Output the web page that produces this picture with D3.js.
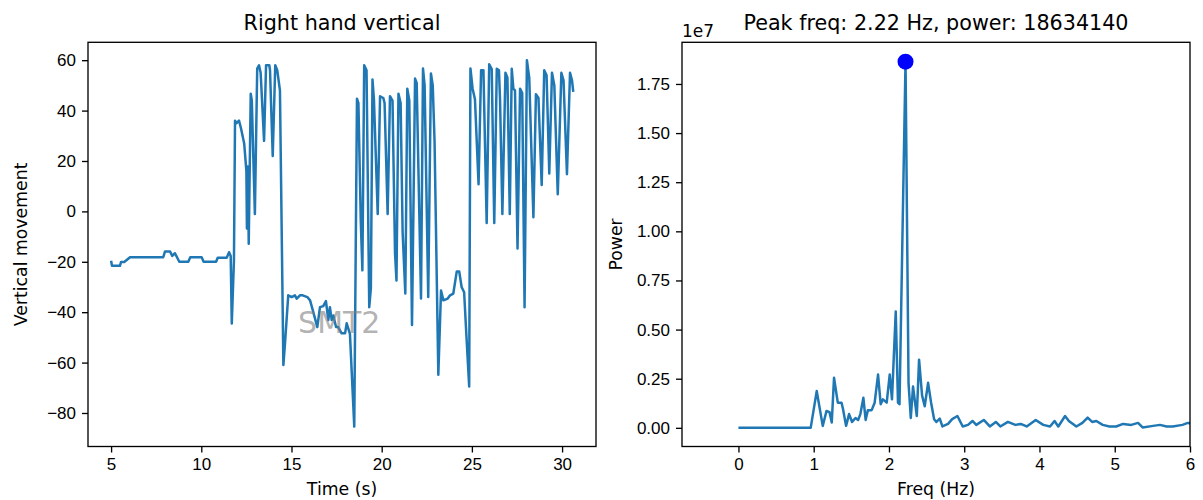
<!DOCTYPE html>
<html>
<head>
<meta charset="utf-8" />
<title>Right hand vertical</title>
<script src="https://d3js.org/d3.v7.min.js"></script>
<style>
  body { margin: 0; background: #fff; }
  svg { font-family: "DejaVu Sans", sans-serif; }
  .tick text { font-size: 17px; fill: #000; }
  .tick line { stroke: #000; stroke-width: 1.33px; }
  .spine { fill: none; stroke: #000; stroke-width: 1.33px; }
  .line { fill: none; stroke: #1f77b4; stroke-width: 2.5px; stroke-linejoin: round; }
  .title { font-size: 20.7px; text-anchor: middle; }
  .label { font-size: 17.3px; text-anchor: middle; }
</style>
</head>
<body>
<svg width="1203" height="500"></svg>
<script>
// left panel: hand position over time
var timeS = [5.00, 5.05, 5.49, 5.55, 5.73, 6.05, 7.89, 7.99, 8.27, 8.39, 8.54, 8.78, 9.28, 9.39, 10.02, 10.13,
  10.82, 10.91, 11.41, 11.54, 11.63, 11.69, 11.81, 11.87, 11.95, 12.09, 12.2, 12.38, 12.5, 12.53, 12.58, 12.63,
  12.74, 12.8, 12.97, 13.1, 13.2, 13.29, 13.48, 13.59, 13.77, 13.81, 13.96, 14.1, 14.21, 14.36, 14.55, 14.64,
  14.82, 15.01, 15.19, 15.29, 15.47, 15.62, 15.88, 16.03, 16.21, 16.43, 16.58, 16.76, 16.91, 17.04, 17.13, 17.23,
  17.32, 17.47, 17.59, 17.78, 17.97, 18.06, 18.24, 18.48, 18.63, 18.71, 18.84, 18.93, 19.03, 19.16, 19.31, 19.4,
  19.49, 19.57, 19.78, 19.91, 20.09, 20.16, 20.33, 20.46, 20.6, 20.74, 20.82, 20.93, 21.05, 21.16, 21.31, 21.42,
  21.53, 21.68, 21.85, 21.94, 22.18, 22.29, 22.38, 22.58, 22.73, 22.83, 22.93, 23.14, 23.29, 23.42, 23.66, 23.79,
  23.97, 24.16, 24.3, 24.43, 24.57, 24.71, 24.85, 24.92, 25.04, 25.17, 25.37, 25.51, 25.64, 25.82, 25.96, 26.1,
  26.24, 26.38, 26.5, 26.56, 26.69, 26.86, 26.97, 27.1, 27.21, 27.3, 27.39, 27.53, 27.67, 27.79, 27.92, 28.05,
  28.18, 28.31, 28.41, 28.55, 28.69, 28.87, 29.01, 29.14, 29.29, 29.44, 29.57, 29.76, 29.96, 30.08, 30.27, 30.44,
  30.55, 30.62];
var vertical = [-19.6, -21.6, -21.6, -20.1, -20.1, -18.2, -18.2, -15.9, -15.9, -17.7, -16.6, -20, -20, -18.2, -18.2, -20,
  -20, -18.4, -18.4, -16.2, -17.7, -44.5, -19.6, 36, 35, 36, 33, 26.8, 16, -6.8, 17.8, -12.8,
  46.7, 44, -1, 56.7, 58, 55, 28, 58, 58, 56, 22, 58, 56, 48, -61, -52.4,
  -33.3, -34, -33.3, -34.6, -33.3, -33.3, -34, -35.3, -40, -45.9, -38, -37.6, -35.6, -43.1, -38, -43.1,
  -41.3, -45.9, -45.9, -48.4, -48.4, -44.4, -48.6, -85.4, 44.7, 43, -3.6, -23.4, 58, 56, -38, -30.6,
  52.3, 44.5, -1, 45.7, 45, 43, -1, 45.7, 44, -16.7, -27.4, 46.7, 43, -8.2, -32.6, 48.7,
  44, -45.1, 52.7, 51, -34.6, 56.7, 50, -34, 54.7, 50, 28, -64.8, -31.4, -35.3, -34.6, -33.3,
  -32.6, -23.9, -23.9, -30, -32.1, -51.1, -69.5, 56.7, 48.7, 44.5, 10.8, 56, 56, -4.6, 58.4, 56.5,
  -4.6, 56.6, 56, 44.5, -1, 55, 53, -1, 56.6, 48.7, 48, -14.7, 48.7, 47, -38, 60,
  53, 21.4, -2.3, 46.5, 45, 10.5, 56, 54, 15, 55, 50, 6.8, 55, 52, 14.8, 55,
  52, 47.4];

// right panel: power spectrum
var freqHz = [0, 0.96, 1.04, 1.12, 1.17, 1.21, 1.24, 1.27, 1.32, 1.37, 1.39, 1.43, 1.47, 1.51, 1.555, 1.59,
  1.62, 1.66, 1.69, 1.72, 1.77, 1.81, 1.855, 1.89, 1.92, 1.97, 2.01, 2.04, 2.09, 2.12, 2.14, 2.22,
  2.26, 2.29, 2.32, 2.37, 2.4, 2.44, 2.475, 2.52, 2.56, 2.6, 2.63, 2.675, 2.71, 2.785, 2.84, 2.91,
  2.98, 3.05, 3.11, 3.16, 3.26, 3.34, 3.42, 3.48, 3.58, 3.68, 3.75, 3.83, 3.95, 4.05, 4.14, 4.2,
  4.25, 4.34, 4.39, 4.49, 4.57, 4.64, 4.7, 4.755, 4.84, 4.93, 5.02, 5.11, 5.22, 5.31, 5.37, 5.51,
  5.6, 5.69, 5.77, 5.9, 5.97, 6.05];
var power = [0, 0, 1870000, 100000, 860000, 800000, 270000, 2550000, 1280000, 1280000, 950000, 100000, 700000, 300000, 500000, 400000,
  700000, 1530000, 400000, 900000, 900000, 1280000, 2710000, 1200000, 1450000, 1280000, 2710000, 1450000, 5920000, 1280000, 1200000, 18634140,
  2290000, 500000, 2100000, 600000, 3470000, 1650000, 1100000, 2290000, 1280000, 440000, 300000, 470000, 70000, 200000, 440000, 600000,
  70000, 150000, 350000, 150000, 400000, 70000, 300000, 70000, 300000, 150000, 200000, 70000, 400000, 150000, 70000, 350000,
  70000, 600000, 350000, 70000, 250000, 520000, 300000, 350000, 150000, 70000, 70000, 200000, 150000, 250000, 20000, 100000,
  150000, 70000, 70000, 150000, 250000, 200000];

var peakFreq = 2.22, peakPower = 18634140;

var timeTicks = [5, 10, 15, 20, 25, 30];
var verticalTicks = [-80, -60, -40, -20, 0, 20, 40, 60];
var freqTicks = [0, 1, 2, 3, 4, 5, 6];
var powerTicks = [0, 0.25, 0.5, 0.75, 1.0, 1.25, 1.5, 1.75]; // x 1e7

var svg = d3.select("svg");
var axTop = 42.3, axBottom = 446.5;

function panel(x0, x1, xDomain, yDomain, id) {
    var g = svg.append("g");
    var x = d3.scaleLinear().domain(xDomain).range([x0, x1]);
    var y = d3.scaleLinear().domain(yDomain).range([axBottom, axTop]);
    svg.append("clipPath").attr("id", id)
        .append("rect").attr("x", x0).attr("y", axTop).attr("width", x1 - x0).attr("height", axBottom - axTop);
    return { g: g, x: x, y: y, x0: x0, x1: x1 };
}

function drawAxes(p, xTicks, yTicks, yFmt) {
    p.g.append("g")
        .attr("transform", "translate(0," + axBottom + ")")
        .call(d3.axisBottom(p.x).tickValues(xTicks).tickFormat(d3.format("d")).tickSize(6).tickPadding(5).tickSizeOuter(0))
        .call(function (a) { a.select(".domain").remove(); });
    p.g.append("g")
        .attr("transform", "translate(" + p.x0 + ",0)")
        .call(d3.axisLeft(p.y).tickValues(yTicks).tickFormat(yFmt).tickSize(6).tickPadding(6).tickSizeOuter(0))
        .call(function (a) { a.select(".domain").remove(); });
    p.g.selectAll(".tick text").attr("font-family", null).attr("font-size", null);
    p.g.append("rect").attr("class", "spine")
        .attr("x", p.x0).attr("y", axTop).attr("width", p.x1 - p.x0).attr("height", axBottom - axTop);
}

// ---- left: Right hand vertical
var L = panel(88, 596, [3.72, 31.88], [-93.3, 67.1], "clipL");
var leftData = timeS.map(function (t, i) { return { t: t, v: vertical[i] }; });

L.g.append("path")
    .datum(leftData)
    .attr("class", "line")
    .attr("clip-path", "url(#clipL)")
    .attr("d", d3.line().x(function (d) { return L.x(d.t); }).y(function (d) { return L.y(d.v); }));

L.g.append("text")
    .attr("x", L.x(17.65)).attr("y", L.y(-48.3))
    .attr("text-anchor", "middle")
    .attr("font-size", "30px")
    .attr("fill", "gray").attr("fill-opacity", 0.6)
    .text("SMT2");

drawAxes(L, timeTicks, verticalTicks, d3.format("d"));

svg.append("text").attr("class", "title").attr("x", 342).attr("y", 30).text("Right hand vertical");
svg.append("text").attr("class", "label").attr("x", 342).attr("y", 495).text("Time (s)");
svg.append("text").attr("class", "label")
    .attr("transform", "translate(27," + ((axTop + axBottom) / 2) + ") rotate(-90)")
    .text("Vertical movement");

// ---- right: spectrum
var R = panel(682, 1190, [-0.75, 6], [-0.095e7, 1.962e7], "clipR");
var rightData = freqHz.map(function (f, i) { return { f: f, p: power[i] }; });

R.g.append("path")
    .datum(rightData)
    .attr("class", "line")
    .attr("clip-path", "url(#clipR)")
    .attr("d", d3.line().x(function (d) { return R.x(d.f); }).y(function (d) { return R.y(d.p); }));

R.g.append("circle")
    .attr("cx", R.x(peakFreq)).attr("cy", R.y(peakPower))
    .attr("r", 8).attr("fill", "#0000ff");

drawAxes(R, freqTicks, powerTicks.map(function (d) { return d * 1e7; }),
    function (d) { return d3.format(".2f")(d / 1e7); });

svg.append("text").attr("x", 682).attr("y", 37).attr("font-size", "17px").text("1e7");
svg.append("text").attr("class", "title").attr("x", 936).attr("y", 30)
    .text("Peak freq: " + peakFreq.toFixed(2) + " Hz, power: " + peakPower);
svg.append("text").attr("class", "label").attr("x", 936).attr("y", 495).text("Freq (Hz)");
svg.append("text").attr("class", "label")
    .attr("transform", "translate(622," + ((axTop + axBottom) / 2) + ") rotate(-90)")
    .text("Power");
</script>
</body>
</html>
